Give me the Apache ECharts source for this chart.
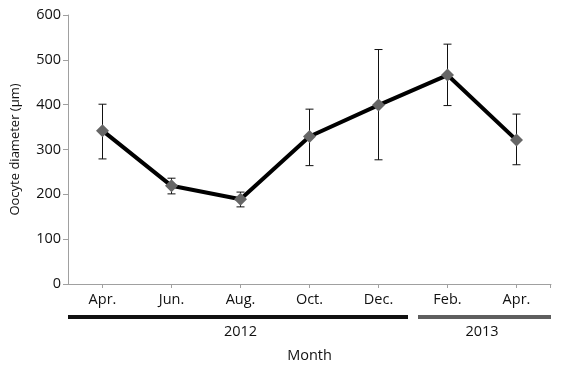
<!DOCTYPE html>
<html><head><meta charset="utf-8">
<script src="https://cdn.jsdelivr.net/npm/echarts@6/dist/echarts.min.js"></script>
<style>html,body{margin:0;padding:0;background:#fff}#c{width:562px;height:374px}</style>
</head><body><div id="c"></div>
<script>
const months = ['Apr.', 'Jun.', 'Aug.', 'Oct.', 'Dec.', 'Feb.', 'Apr.'];
const meanValues = [342, 219, 189, 329, 399, 466, 321];
const upperValues = [401, 236, 205, 390, 523, 535, 379];
const lowerValues = [279, 201, 172, 264, 277, 398, 266];
const years = ['2012', '2013'];
const yearFirstIndex = [0, 5];
const yearLastIndex = [4, 6];
const yTicks = [0, 100, 200, 300, 400, 500, 600];

const FONT = '"Open Sans", "Noto Sans", sans-serif';
const FS = 14.5;
const chart = echarts.init(document.getElementById('c'));
const errData = months.map((m, i) => [i, lowerValues[i], upperValues[i]]);

chart.setOption({
  animation: false,
  grid: { left: 68, right: 11, top: 15, bottom: 90, containLabel: false },
  xAxis: {
    type: 'category', data: months, boundaryGap: true,
    axisLine: { lineStyle: { color: '#a0a0a0', width: 1 } },
    axisTick: { show: true, alignWithLabel: true, length: 4, lineStyle: { color: '#a0a0a0' } },
    axisLabel: { color: '#111', fontSize: FS, fontFamily: FONT, margin: 8 },
    name: 'Month', nameLocation: 'middle', nameGap: 64,
    nameTextStyle: { color: '#111', fontSize: FS, fontFamily: FONT }
  },
  yAxis: {
    type: 'value', min: yTicks[0], max: yTicks[yTicks.length - 1], interval: 100,
    axisLine: { show: true, lineStyle: { color: '#a0a0a0', width: 1 } },
    axisTick: { show: true, length: 5, lineStyle: { color: '#a0a0a0' } },
    splitLine: { show: false },
    axisLabel: { color: '#111', fontSize: FS, fontFamily: FONT, margin: 7 },
    name: 'Oocyte diameter (µm)', nameLocation: 'middle', nameGap: 46,
    nameTextStyle: { color: '#111', fontSize: 13, fontFamily: FONT }
  },
  series: [
    {
      type: 'custom', z: 1,
      data: errData,
      renderItem: function (params, api) {
        const x = api.value(0);
        const lo = api.coord([x, api.value(1)]);
        const hi = api.coord([x, api.value(2)]);
        const hw = 4;
        const st = { stroke: '#111', lineWidth: 1 };
        return {
          type: 'group',
          children: [
            { type: 'line', shape: { x1: lo[0], y1: lo[1], x2: hi[0], y2: hi[1] }, style: st },
            { type: 'line', shape: { x1: lo[0] - hw, y1: lo[1], x2: lo[0] + hw, y2: lo[1] }, style: st },
            { type: 'line', shape: { x1: hi[0] - hw, y1: hi[1], x2: hi[0] + hw, y2: hi[1] }, style: st }
          ]
        };
      }
    },
    {
      type: 'line', z: 3, data: meanValues,
      symbol: 'diamond', symbolSize: 13,
      lineStyle: { color: '#000', width: 4 },
      itemStyle: { color: '#666666' }
    }
  ]
});

// year bars beneath the axis, positioned from the category scale
const p = months.map((m, i) => chart.convertToPixel({ xAxisIndex: 0 }, i));
const step = p[1] - p[0];
const gridLeft = 68, gridRight = 562 - 11;
const barColors = ['#111111', '#5f5f5f'];
const graphics = [];
years.forEach((y, k) => {
  let x1 = k === 0 ? gridLeft : p[yearFirstIndex[k]] - step / 2 + 5;
  let x2 = k === years.length - 1 ? gridRight : p[yearLastIndex[k]] + step / 2 - 5;
  graphics.push({ type: 'rect', shape: { x: x1, y: 315, width: x2 - x1, height: 4 }, style: { fill: barColors[k] } });
  graphics.push({ type: 'text', x: (p[yearFirstIndex[k]] + p[yearLastIndex[k]]) / 2, y: 332,
    style: { text: y, fill: '#111', font: FS + 'px ' + FONT, textAlign: 'center', textVerticalAlign: 'middle' } });
});
// right-end tick of x-axis
graphics.push({ type: 'line', shape: { x1: gridRight - 0.5, y1: 284, x2: gridRight - 0.5, y2: 288 }, style: { stroke: '#a0a0a0', lineWidth: 1 } });
chart.setOption({ graphic: graphics });
</script></body></html>
